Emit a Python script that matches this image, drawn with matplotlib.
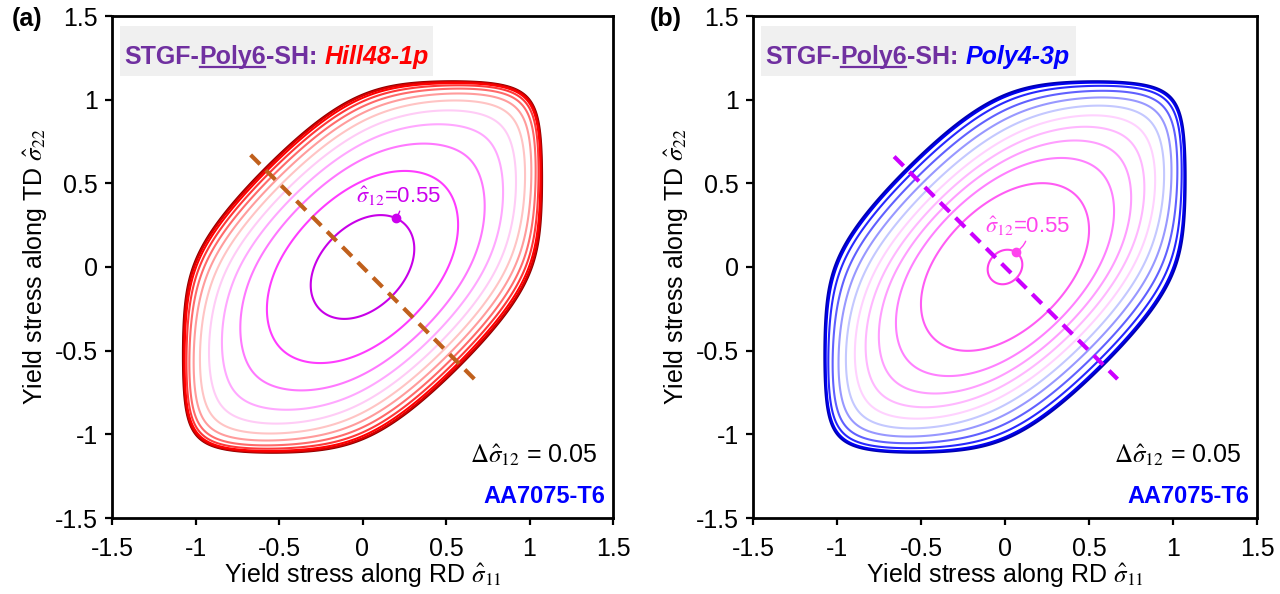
import numpy as np
import matplotlib
matplotlib.use("Agg")
import matplotlib.pyplot as plt
from matplotlib.patches import Rectangle
from matplotlib.lines import Line2D

plt.rcParams["font.family"] = ["Liberation Sans", "DejaVu Sans"]
plt.rcParams["mathtext.fontset"] = "stix"

# ---- data -----------------------------------------------------------------
shear_levels = [0.00, 0.05, 0.10, 0.15, 0.20, 0.25, 0.30, 0.35, 0.40, 0.45, 0.50, 0.55]

# plane-stress part: Hosford-type surface blended with caps on |s11| and |s22|
hosford_exp = 6
hosford_w = [0.9, 1.0, 0.75]          # weights on |s22|, |s11|, |s11 - s22|
hosford_scale = 1.0
cap_11, cap_22 = 1.105, 1.16
blend_exp = 20

# shear coupling: c1*t^2*q1^2 + c2*t^4*q2 + c3*t^6, q = s11^2 - k*s11*s22 + s22^2
coupling_a = [9.1, 22.4, 29.2, 1.3, 0.6]      # Hill48-1p
coupling_b = [23.8, 16.2, 35.54, 1.25, 0.2]   # Poly4-3p

colors_a = ["#8B0000", "#D80000", "#FF0000", "#FF3838", "#FF6A6A", "#FF9C9C",
            "#FFC4C4", "#FFCCF6", "#FFA8FF", "#FF78FF", "#FF3CFF", "#C800E8"]
colors_b = ["#0000B4", "#0000F0", "#2828FF", "#6060FF", "#9898FF", "#C4C8FF",
            "#FFD2FF", "#FFB8FF", "#FF9EFF", "#FF80FF", "#FF5CF4", "#FF40EC"]

diag_a_x, diag_a_y = [-0.67, 0.67], [0.67, -0.67]
diag_b_x, diag_b_y = [-0.66, 0.67], [0.66, -0.67]

tick_vals = [-1.5, -1.0, -0.5, 0.0, 0.5, 1.0, 1.5]
tick_text = ["-1.5", "-1", "-0.5", "0", "0.5", "1", "1.5"]

purple = "#7030A0"


def yield_function(s11, s22, tau, coup):
    w22, w11, w12 = hosford_w
    m = hosford_exp
    h = ((w22 * np.abs(s22) ** m + w11 * np.abs(s11) ** m
          + w12 * np.abs(s11 - s22) ** m) / 2.0) ** (1.0 / m) / hosford_scale
    p = blend_exp
    phi = (h ** p + (np.abs(s11) / cap_11) ** p + (np.abs(s22) / cap_22) ** p) ** (1.0 / p)
    c1, c2, c3, k1, k2 = coup
    q1 = s11 ** 2 - k1 * s11 * s22 + s22 ** 2
    q2 = s11 ** 2 - k2 * s11 * s22 + s22 ** 2
    return phi ** 6 + c1 * tau ** 2 * q1 ** 2 + c2 * tau ** 4 * q2 + c3 * tau ** 6


grid = np.linspace(-1.5, 1.5, 1201)
S11, S22 = np.meshgrid(grid, grid)

fig = plt.figure(figsize=(12.8, 5.94), dpi=100)
ax_a = fig.add_axes([112 / 1280, 76 / 594, 501 / 1280, 502 / 594])
ax_b = fig.add_axes([753 / 1280, 76 / 594, 504 / 1280, 502 / 594])


def draw_panel(ax, coup, colors, diag_x, diag_y, diag_color, shear_name, shear_color,
               label_color, dot_s11, text_xy, panel_tag, tag_x):
    inner = None
    for lvl, col in zip(shear_levels, colors):
        Z = yield_function(S11, S22, lvl, coup)
        lw = 2.0 if lvl == 0 else 1.5
        cs = ax.contour(S11, S22, Z, levels=[1.0], colors=[col], linewidths=lw,
                        zorder=3 + lvl)
        inner = cs
    ax.plot(diag_x, diag_y, linestyle=(0, (3.2, 2.0)), color=diag_color, lw=3.0,
            zorder=5, solid_capstyle="butt")

    # marker on the innermost contour
    verts = np.vstack([p.vertices for p in inner.get_paths()])
    upper = verts[verts[:, 1] > 0]
    idx = np.argmin(np.abs(upper[:, 0] - dot_s11))
    dot = upper[idx]
    ax.plot([dot[0]], [dot[1]], "o", color=label_color, ms=6, zorder=6)
    ax.annotate(r"$\hat{\sigma}_{12}$=0.55", xy=dot, xytext=text_xy,
                textcoords="data", fontsize=16, color=label_color,
                ha="left", va="center", zorder=7,
                arrowprops=dict(arrowstyle="-", color=label_color, lw=1.0,
                                shrinkA=0, shrinkB=0,
                                connectionstyle="arc3,rad=-0.3"))

    ax.set_xlim(-1.5, 1.5)
    ax.set_ylim(-1.5, 1.5)
    ax.set_xticks(tick_vals)
    ax.set_xticklabels(tick_text)
    ax.set_yticks(tick_vals)
    ax.set_yticklabels(tick_text)
    ax.tick_params(direction="out", length=5, width=1.6, labelsize=18)
    ax.tick_params(axis="x", pad=9)
    ax.tick_params(axis="y", pad=5)
    for sp in ax.spines.values():
        sp.set_linewidth(2.0)
    ax.set_xlabel(r"Yield stress along RD $\hat{\sigma}_{11}$", fontsize=18, labelpad=0)
    ax.set_ylabel(r"Yield stress along TD $\hat{\sigma}_{22}$", fontsize=18, labelpad=4)

    # header box
    ax.add_patch(Rectangle((0.016, 0.880), 0.625, 0.100, transform=ax.transAxes,
                           facecolor="#F0F0F0", edgecolor="none", zorder=1))
    t1 = ax.text(0.025, 0.905, "STGF-", transform=ax.transAxes, fontsize=18,
                 fontweight="bold", color=purple, ha="left", va="baseline", zorder=2)
    t2 = ax.annotate("Poly6", xy=(1, 0), xycoords=t1, fontsize=18, fontweight="bold",
                     color=purple, ha="left", va="bottom", zorder=2)
    t3 = ax.annotate("-SH: ", xy=(1, 0), xycoords=t2, fontsize=18, fontweight="bold",
                     color=purple, ha="left", va="bottom", zorder=2)
    ax.annotate(shear_name, xy=(1, 0), xycoords=t3, fontsize=18, fontweight="bold",
                fontstyle="italic", color=shear_color, ha="left", va="bottom", zorder=2)

    ax.text(0.97, 0.125, r"$\Delta\hat{\sigma}_{12}$ = 0.05", transform=ax.transAxes,
            fontsize=18, ha="right", va="center", color="black")
    ax.text(0.984, 0.042, "AA7075-T6", transform=ax.transAxes, fontsize=17,
            fontweight="bold", color="#0000FF", ha="right", va="center")
    fig.text(tag_x, 0.968, panel_tag, fontsize=18, fontweight="bold",
             ha="left", va="center")
    return t2


u_a = draw_panel(ax_a, coupling_a, colors_a, diag_a_x, diag_a_y, "#C0601C",
                 "Hill48-1p", "#FF0000", "#CC00EE", 0.20, (-0.04, 0.42), "(a)", 0.009)
u_b = draw_panel(ax_b, coupling_b, colors_b, diag_b_x, diag_b_y, "#CC00FF",
                 "Poly4-3p", "#0000FF", "#FF44EE", 0.066, (-0.12, 0.24), "(b)", 0.508)

# underline the "Poly6" word in both headers
fig.canvas.draw()
renderer = fig.canvas.get_renderer()
inv = fig.transFigure.inverted()
for t in (u_a, u_b):
    bb = t.get_window_extent(renderer)
    x0, y0 = inv.transform((bb.x0 + 1, bb.y0 + 2))
    x1, _ = inv.transform((bb.x1 - 1, bb.y0 + 2))
    fig.add_artist(Line2D([x0, x1], [y0, y0], transform=fig.transFigure,
                          color=purple, lw=1.6))

fig.savefig("out.png", dpi=100)
